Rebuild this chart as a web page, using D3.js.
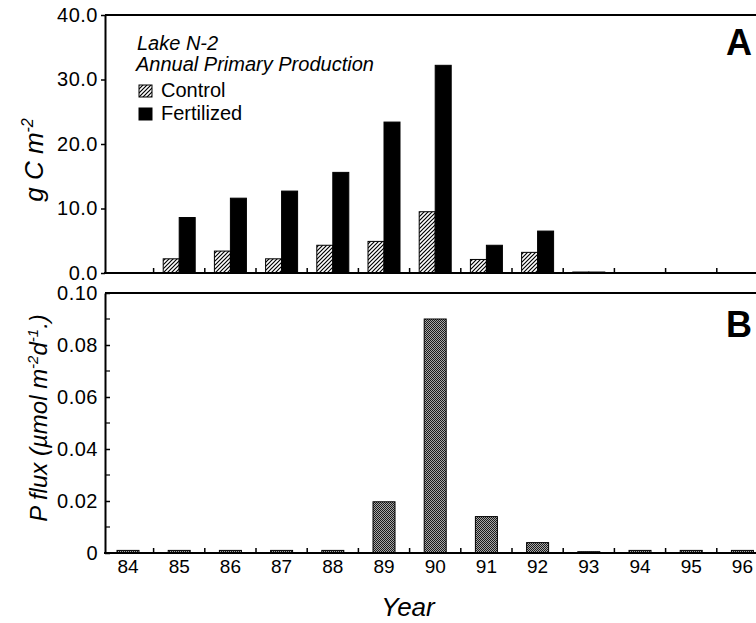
<!DOCTYPE html>
<html><head><meta charset="utf-8">
<script src="https://cdn.jsdelivr.net/npm/d3@7"></script>
<style>
body{margin:0;background:#fff}
svg{display:block}
text{font-family:"Liberation Sans",Arial,Helvetica,sans-serif;fill:#000}
</style>
</head><body>
<svg id="c" width="756" height="623"></svg>
<script>
// ---- data ----
const years = [84, 85, 86, 87, 88, 89, 90, 91, 92, 93, 94, 95, 96];
const yearLabels = ["84","85","86","87","88","89","90","91","92","93","94","95","96"];
const controlProd    = [null, 2.2, 3.4, 2.2, 4.3, 4.9, 9.5, 2.1, 3.2, 0.15, null, null, null];
const fertilizedProd = [null, 8.6, 11.6, 12.7, 15.6, 23.4, 32.2, 4.3, 6.5, 0.15, null, null, null];
const pFlux = [0.001, 0.001, 0.001, 0.001, 0.001, 0.0197, 0.090, 0.014, 0.004, 0.0005, 0.001, 0.001, 0.001];
const prodTicks = [0, 10, 20, 30, 40];
const fluxTicks = [0, 0.02, 0.04, 0.06, 0.08, 0.10];
const fluxMinorTicks = [0.01, 0.03, 0.05, 0.07, 0.09];
const seriesNames = ["Control", "Fertilized"];

// ---- layout ----
const svg = d3.select("#c");
const axisX = 105;
const A = {top: 15, bottom: 273};
const B = {top: 293, bottom: 553};

const x = d3.scaleBand().domain(years).range([102.4, 768]).padding(0);
const bw = x.bandwidth();
const inner = d3.scaleBand().domain(seriesNames).range([-16, 16]).padding(0);
const yA = d3.scaleLinear().domain([0, 40]).range([A.bottom, A.top]);
const yB = d3.scaleLinear().domain([0, 0.1]).range([B.bottom, B.top]);

// ---- patterns ----
const defs = svg.append("defs");
const hatch = defs.append("pattern").attr("id", "hatch").attr("patternUnits", "userSpaceOnUse")
  .attr("width", 4).attr("height", 4);
hatch.append("rect").attr("width", 4).attr("height", 4).attr("fill", "#fff");
hatch.append("path").attr("d", "M-1,1 l2,-2 M0,4 l4,-4 M3,5 l2,-2")
  .attr("stroke", "#000").attr("stroke-width", 1.2);

const checker = defs.append("pattern").attr("id", "checker").attr("patternUnits", "userSpaceOnUse")
  .attr("width", 2).attr("height", 2);
checker.append("rect").attr("width", 2).attr("height", 2).attr("fill", "#a8a8a8");
checker.append("rect").attr("width", 1).attr("height", 1).attr("fill", "#1a1a1a");
checker.append("rect").attr("x", 1).attr("y", 1).attr("width", 1).attr("height", 1).attr("fill", "#1a1a1a");

const cx = d => x(d) + bw / 2;

// ================= Panel A =================
const gA = svg.append("g");
const rowsA = years.map((yr, i) => ({yr, Control: controlProd[i], Fertilized: fertilizedProd[i]}));
seriesNames.forEach(s => {
  gA.selectAll(null).data(rowsA.filter(d => d[s] != null)).join("rect")
    .attr("x", d => cx(d.yr) + inner(s))
    .attr("y", d => yA(d[s]))
    .attr("width", inner.bandwidth())
    .attr("height", d => yA(0) - yA(d[s]))
    .attr("fill", s === "Control" ? "url(#hatch)" : "#000")
    .attr("stroke", "#000").attr("stroke-width", 1);
});
gA.append("line").attr("x1", axisX).attr("x2", 768).attr("y1", A.top).attr("y2", A.top)
  .attr("stroke", "#000").attr("stroke-width", 2);
gA.append("line").attr("x1", axisX - 1).attr("x2", 768).attr("y1", A.bottom).attr("y2", A.bottom)
  .attr("stroke", "#000").attr("stroke-width", 2);
gA.selectAll(null).data(years.slice(1)).join("line")
  .attr("x1", d => x(d)).attr("x2", d => x(d))
  .attr("y1", A.bottom).attr("y2", A.bottom - 5)
  .attr("stroke", "#000").attr("stroke-width", 1.5);
const axA = gA.append("g").attr("transform", `translate(${axisX},0)`)
  .call(d3.axisLeft(yA).tickValues(prodTicks).tickFormat(d3.format(".1f"))
    .tickSize(4).tickSizeOuter(0).tickPadding(3));
axA.attr("font-family", null);
axA.select(".domain").attr("stroke-width", 2);
axA.selectAll(".tick line").attr("stroke-width", 1.5);
axA.selectAll(".tick text").attr("font-size", 20).style("letter-spacing", "0.5px");

gA.append("text").attr("x", 137).attr("y", 50).attr("font-size", 20).attr("font-style", "italic").text("Lake N-2");
gA.append("text").attr("x", 136).attr("y", 71).attr("font-size", 20).attr("font-style", "italic").text("Annual Primary Production");
const leg = gA.append("g");
seriesNames.forEach((s, i) => {
  const yy = 85 + i * 23;
  leg.append("rect").attr("x", 139).attr("y", yy).attr("width", 13).attr("height", 12)
    .attr("fill", s === "Control" ? "url(#hatch)" : "#000").attr("stroke", "#000").attr("stroke-width", 1);
  leg.append("text").attr("x", 161).attr("y", yy + 12).attr("font-size", 20).text(s);
});
gA.append("text").attr("x", 752).attr("y", 55).attr("text-anchor", "end")
  .attr("font-size", 36).attr("font-weight", "bold").text("A");

const tA = gA.append("text").attr("transform", "translate(43,160) rotate(-90)")
  .attr("text-anchor", "middle").attr("font-size", 26).attr("font-style", "italic");
tA.append("tspan").text("g C m");
tA.append("tspan").attr("dy", -10).attr("font-size", 16).text("-2");

// ================= Panel B =================
const gB = svg.append("g");
gB.selectAll(null).data(years.map((yr, i) => ({yr, v: pFlux[i]}))).join("rect")
  .attr("x", d => cx(d.yr) - 11)
  .attr("y", d => yB(d.v))
  .attr("width", 22)
  .attr("height", d => yB(0) - yB(d.v))
  .attr("fill", "url(#checker)")
  .attr("stroke", "#000").attr("stroke-width", 1);
gB.append("line").attr("x1", axisX).attr("x2", 768).attr("y1", B.top).attr("y2", B.top)
  .attr("stroke", "#000").attr("stroke-width", 2);
gB.append("line").attr("x1", axisX - 1).attr("x2", 768).attr("y1", B.bottom).attr("y2", B.bottom)
  .attr("stroke", "#000").attr("stroke-width", 2);
gB.selectAll(null).data(years.slice(1)).join("line")
  .attr("x1", d => x(d)).attr("x2", d => x(d))
  .attr("y1", B.bottom).attr("y2", B.bottom - 5)
  .attr("stroke", "#000").attr("stroke-width", 1.5);
const axB = gB.append("g").attr("transform", `translate(${axisX},0)`)
  .call(d3.axisRight(yB).tickValues(fluxTicks)
    .tickFormat(d => d === 0 ? "0" : d3.format(".2f")(d))
    .tickSize(5).tickSizeOuter(0));
axB.attr("font-family", null).attr("text-anchor", null);
axB.select(".domain").attr("stroke-width", 2);
axB.selectAll(".tick line").attr("stroke-width", 1.5);
axB.selectAll(".tick text").attr("x", -7).attr("text-anchor", "end")
  .attr("font-size", 20).style("letter-spacing", "0.5px");
gB.selectAll(null).data(fluxMinorTicks).join("line")
  .attr("x1", axisX).attr("x2", axisX + 5)
  .attr("y1", d => yB(d)).attr("y2", d => yB(d))
  .attr("stroke", "#000").attr("stroke-width", 1.2);

gB.selectAll(null).data(years).join("text")
  .attr("x", d => cx(d)).attr("y", 573)
  .attr("text-anchor", "middle").attr("font-size", 19)
  .text((d, i) => yearLabels[i]);

gB.append("text").attr("x", 752).attr("y", 337).attr("text-anchor", "end")
  .attr("font-size", 36).attr("font-weight", "bold").text("B");

const tB = gB.append("text").attr("transform", `translate(47,${(B.top + B.bottom) / 2 - 5}) rotate(-90)`)
  .attr("text-anchor", "middle").attr("font-size", 24).attr("font-style", "italic");
tB.append("tspan").text("P flux (\u00b5mol m");
tB.append("tspan").attr("dy", -9).attr("font-size", 15).text("-2");
tB.append("tspan").attr("dy", 9).text("d");
tB.append("tspan").attr("dy", -9).attr("font-size", 15).text("-1");
tB.append("tspan").attr("dy", 9).text(".)");

svg.append("text").attr("x", 408).attr("y", 616).attr("text-anchor", "middle")
  .attr("font-size", 26).attr("font-style", "italic").text("Year");
</script>
</body></html>
